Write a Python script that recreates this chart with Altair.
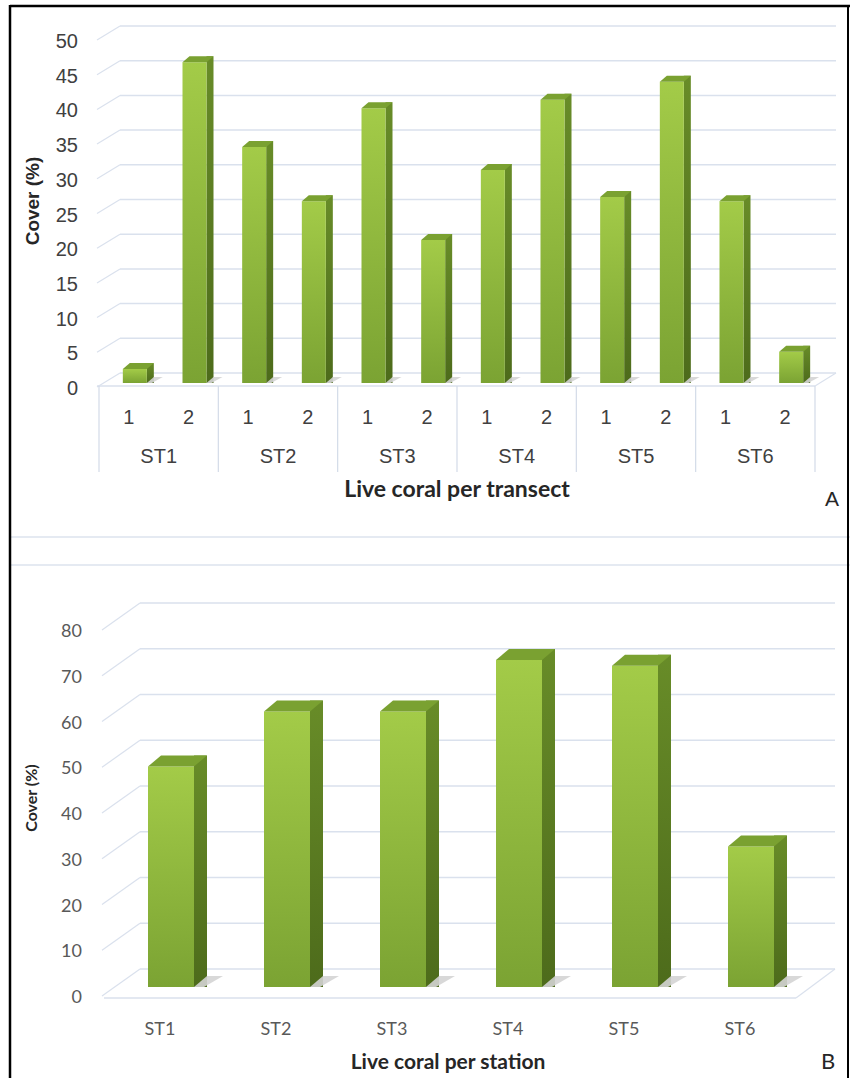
import altair as alt
import pandas as pd

# ---- data -------------------------------------------------------------
stations = ["ST1", "ST2", "ST3", "ST4", "ST5", "ST6"]
transects = ["1", "2"]
# live coral cover (%) for each transect, station by station
transect_cover = [2.0, 46.2, 34.0, 26.2, 39.6, 20.6, 30.7, 40.8, 26.8, 43.4, 26.2, 4.5]
# live coral cover (%) for each station
station_cover = [48.2, 60.2, 60.2, 71.5, 70.2, 30.7]
top_ticks = [0, 5, 10, 15, 20, 25, 30, 35, 40, 45, 50]
bottom_ticks = [0, 10, 20, 30, 40, 50, 60, 70, 80]

keys = [f"{s}-{t}" for s in stations for t in transects]
top = pd.DataFrame({
    "key": keys,
    "station": [s for s in stations for _ in transects],
    "transect": [t for _ in stations for t in transects],
    "cover": transect_cover,
})
bottom = pd.DataFrame({"station": stations, "cover": station_cover})
top_tick_df = pd.DataFrame({"tick": top_ticks})
bottom_tick_df = pd.DataFrame({"tick": bottom_ticks})

# ---- styling ----------------------------------------------------------
GRID = "#dae1ed"
FRONT = alt.Gradient(
    gradient="linear",
    stops=[alt.GradientStop(color="#a3cb48", offset=0),
           alt.GradientStop(color="#7ba333", offset=1)],
    x1=0, x2=0, y1=0, y2=1,
)
SIDE = alt.Gradient(
    gradient="linear",
    stops=[alt.GradientStop(color="#688c28", offset=0),
           alt.GradientStop(color="#4d6b1b", offset=1)],
    x1=0, x2=0, y1=0, y2=1,
)
TOPFACE = "#7aa131"
SHADOW = "#d4d4d4"
ARIAL = "Liberation Sans"
CALIBRI = "Lato"


def text_df(s):
    return pd.DataFrame({"t": [s]})


# ---- panel A: cover per transect ------------------------------------
def xa(band_position=None):
    scale = alt.Scale(domain=keys, range=[99, 815], paddingInner=0, paddingOuter=0)
    if band_position is None:
        return alt.X("key:N", scale=scale, axis=None)
    return alt.X("key:N", scale=scale, axis=None, bandPosition=band_position)


def ya(field="cover:Q"):
    return alt.Y(field, scale=alt.Scale(domain=[0, 50], range=[383, 36], nice=False), axis=None)


A_W, A_DX, A_DY, A_OFF = 24, 7, 6, 6

a_layers = [
    # back-wall gridlines and the slanted side-wall strokes
    alt.Chart(top_tick_df).mark_rule(color=GRID, strokeWidth=1.5, yOffset=-10).encode(
        x=alt.value(120), x2=alt.value(836), y=ya("tick:Q")),
    alt.Chart(top_tick_df).mark_rule(color=GRID, strokeWidth=1.2, yOffset=4, y2Offset=-10).encode(
        x=alt.value(97), x2=alt.value(120), y=ya("tick:Q"), y2=alt.Y2("tick:Q")),
    # floor front edge and right edge
    alt.Chart(top_tick_df).transform_filter("datum.tick == 0").mark_rule(
        color=GRID, strokeWidth=1.5, yOffset=3).encode(
        x=alt.value(97), x2=alt.value(815), y=ya("tick:Q")),
    alt.Chart(top_tick_df).transform_filter("datum.tick == 0").mark_rule(
        color=GRID, strokeWidth=1.2, yOffset=3, y2Offset=-10).encode(
        x=alt.value(815), x2=alt.value(836), y=ya("tick:Q"), y2=alt.Y2("tick:Q")),
    # y tick labels
    alt.Chart(top_tick_df).mark_text(align="right", baseline="middle", font=ARIAL,
                                     fontSize=20, color="#404040", yOffset=6).encode(
        x=alt.value(78), y=ya("tick:Q"), text="tick:Q"),
    # bars: side face, shadow, front face, top face
    alt.Chart(top).mark_bar(width=A_DX, xOffset=A_OFF + A_W / 2 + A_DX / 2, yOffset=-A_DY,
                            fill=SIDE).encode(
        x=xa(), y=ya(), y2=alt.datum(0)),
    alt.Chart(top).transform_calculate(zero="0").mark_point(
        shape=f"M 0 0 L {A_DX} {-A_DY} L {A_DX + 9} {-A_DY} L 5 0 Z", size=4, filled=True,
        color=SHADOW, opacity=0.9, strokeWidth=0, xOffset=A_OFF + A_W / 2).encode(
        x=xa(), y=ya("zero:Q")),
    alt.Chart(top).mark_bar(width=A_W, xOffset=A_OFF, fill=FRONT).encode(x=xa(), y=ya()),
    alt.Chart(top).mark_point(
        shape=f"M {-A_W/2} 0 L {A_W/2} 0 L {A_W/2 + A_DX} {-A_DY} L {-A_W/2 + A_DX} {-A_DY} Z",
        size=4, filled=True, color=TOPFACE, opacity=1, strokeWidth=0, xOffset=A_OFF).encode(
        x=xa(), y=ya()),
    # category table under the plot
    alt.Chart(top).mark_text(font=ARIAL, fontSize=20, color="#404040", baseline="middle").encode(
        x=xa(), y=alt.value(418), text="transect:N"),
    alt.Chart(top).transform_filter("datum.transect == '2'").mark_text(
        font=ARIAL, fontSize=20, color="#404040", baseline="middle", xOffset=-29.83).encode(
        x=xa(), y=alt.value(457), text="station:N"),
    alt.Chart(top).transform_filter("datum.transect == '1'").mark_rule(
        color="#d3dbe8", strokeWidth=1.2).encode(
        x=xa(0), y=alt.value(386), y2=alt.value(472)),
    alt.Chart(top).transform_filter("datum.key == 'ST6-2'").mark_rule(
        color="#d3dbe8", strokeWidth=1.2).encode(
        x=xa(1), y=alt.value(386), y2=alt.value(472)),
    # titles
    alt.Chart(text_df("Cover (%)")).mark_text(font=ARIAL, fontSize=19, fontWeight="bold",
                                              angle=270, color="#262626", baseline="middle").encode(
        x=alt.value(33), y=alt.value(201), text="t:N"),
    alt.Chart(text_df("Live coral per transect")).mark_text(
        font=CALIBRI, fontSize=23, fontWeight="bold", color="#262626", baseline="middle").encode(
        x=alt.value(457), y=alt.value(490), text="t:N"),
    alt.Chart(text_df("A")).mark_text(font=ARIAL, fontSize=21, color="#262626",
                                      baseline="middle").encode(
        x=alt.value(832), y=alt.value(500), text="t:N"),
]


# ---- panel B: cover per station -------------------------------------
def xb():
    return alt.X("station:N", scale=alt.Scale(domain=stations, range=[102, 798],
                                              paddingInner=0, paddingOuter=0), axis=None)


def yb(field="cover:Q"):
    return alt.Y(field, scale=alt.Scale(domain=[0, 80], range=[987, 621], nice=False), axis=None)


B_W, B_DX, B_DY, B_OFF = 46, 13, 11, 11

b_layers = [
    alt.Chart(bottom_tick_df).mark_rule(color=GRID, strokeWidth=1.5, yOffset=-18).encode(
        x=alt.value(140), x2=alt.value(835), y=yb("tick:Q")),
    alt.Chart(bottom_tick_df).mark_rule(color=GRID, strokeWidth=1.2, yOffset=9, y2Offset=-18).encode(
        x=alt.value(102), x2=alt.value(140), y=yb("tick:Q"), y2=alt.Y2("tick:Q")),
    alt.Chart(bottom_tick_df).transform_filter("datum.tick == 0").mark_rule(
        color=GRID, strokeWidth=1.5, yOffset=11).encode(
        x=alt.value(104), x2=alt.value(796), y=yb("tick:Q")),
    alt.Chart(bottom_tick_df).transform_filter("datum.tick == 0").mark_rule(
        color=GRID, strokeWidth=1.2, yOffset=11, y2Offset=-18).encode(
        x=alt.value(796), x2=alt.value(835), y=yb("tick:Q"), y2=alt.Y2("tick:Q")),
    alt.Chart(bottom_tick_df).mark_text(align="right", baseline="middle", font=CALIBRI,
                                        fontSize=18, color="#595959", yOffset=11).encode(
        x=alt.value(82), y=yb("tick:Q"), text="tick:Q"),
    alt.Chart(bottom).mark_bar(width=B_DX, xOffset=B_OFF + B_W / 2 + B_DX / 2, yOffset=-B_DY,
                               fill=SIDE).encode(
        x=xb(), y=yb(), y2=alt.datum(0)),
    alt.Chart(bottom).transform_calculate(zero="0").mark_point(
        shape=f"M 0 0 L {B_DX} {-B_DY} L {B_DX + 16} {-B_DY} L 10 0 Z", size=4, filled=True,
        color=SHADOW, opacity=0.9, strokeWidth=0, xOffset=B_OFF + B_W / 2).encode(
        x=xb(), y=yb("zero:Q")),
    alt.Chart(bottom).mark_bar(width=B_W, xOffset=B_OFF, fill=FRONT).encode(x=xb(), y=yb()),
    alt.Chart(bottom).mark_point(
        shape=f"M {-B_W/2} 0 L {B_W/2} 0 L {B_W/2 + B_DX} {-B_DY} L {-B_W/2 + B_DX} {-B_DY} Z",
        size=4, filled=True, color=TOPFACE, opacity=1, strokeWidth=0, xOffset=B_OFF).encode(
        x=xb(), y=yb()),
    alt.Chart(bottom).mark_text(font=CALIBRI, fontSize=18, color="#595959", baseline="middle").encode(
        x=xb(), y=alt.value(1030), text="station:N"),
    alt.Chart(text_df("Cover (%)")).mark_text(font=CALIBRI, fontSize=16, fontWeight="bold",
                                              angle=270, color="#262626", baseline="middle").encode(
        x=alt.value(32), y=alt.value(798), text="t:N"),
    alt.Chart(text_df("Live coral per station")).mark_text(
        font=CALIBRI, fontSize=21, fontWeight="bold", color="#262626", baseline="middle").encode(
        x=alt.value(448), y=alt.value(1063), text="t:N"),
    alt.Chart(text_df("B")).mark_text(font=CALIBRI, fontSize=22, color="#262626",
                                      baseline="middle").encode(
        x=alt.value(828), y=alt.value(1062), text="t:N"),
]

# ---- frame and panel dividers ---------------------------------------
frame = [
    alt.Chart(text_df("")).mark_rule(color="#dce3ee", strokeWidth=1.5).encode(
        x=alt.value(10), x2=alt.value(850), y=alt.value(537)),
    alt.Chart(text_df("")).mark_rule(color="#dce3ee", strokeWidth=1.5).encode(
        x=alt.value(10), x2=alt.value(850), y=alt.value(565)),
    alt.Chart(text_df("")).mark_rule(color="black", strokeWidth=2.5).encode(
        x=alt.value(10), y=alt.value(5), y2=alt.value(1078)),
    alt.Chart(text_df("")).mark_rule(color="black", strokeWidth=2.5).encode(
        x=alt.value(10), x2=alt.value(850), y=alt.value(6)),
    alt.Chart(text_df("")).mark_rule(color="black", strokeWidth=2).encode(
        x=alt.value(848), y=alt.value(5), y2=alt.value(1078)),
]

chart = (
    alt.layer(*a_layers, *b_layers, *frame)
    .resolve_scale(x="independent", y="independent")
    .properties(width=850, height=1078, autosize=alt.AutoSizeParams(type="none"), padding=0,
                background="white")
    .configure_view(stroke=None)
)

chart.save("out.html", embed_options={"renderer": "svg", "actions": False})
